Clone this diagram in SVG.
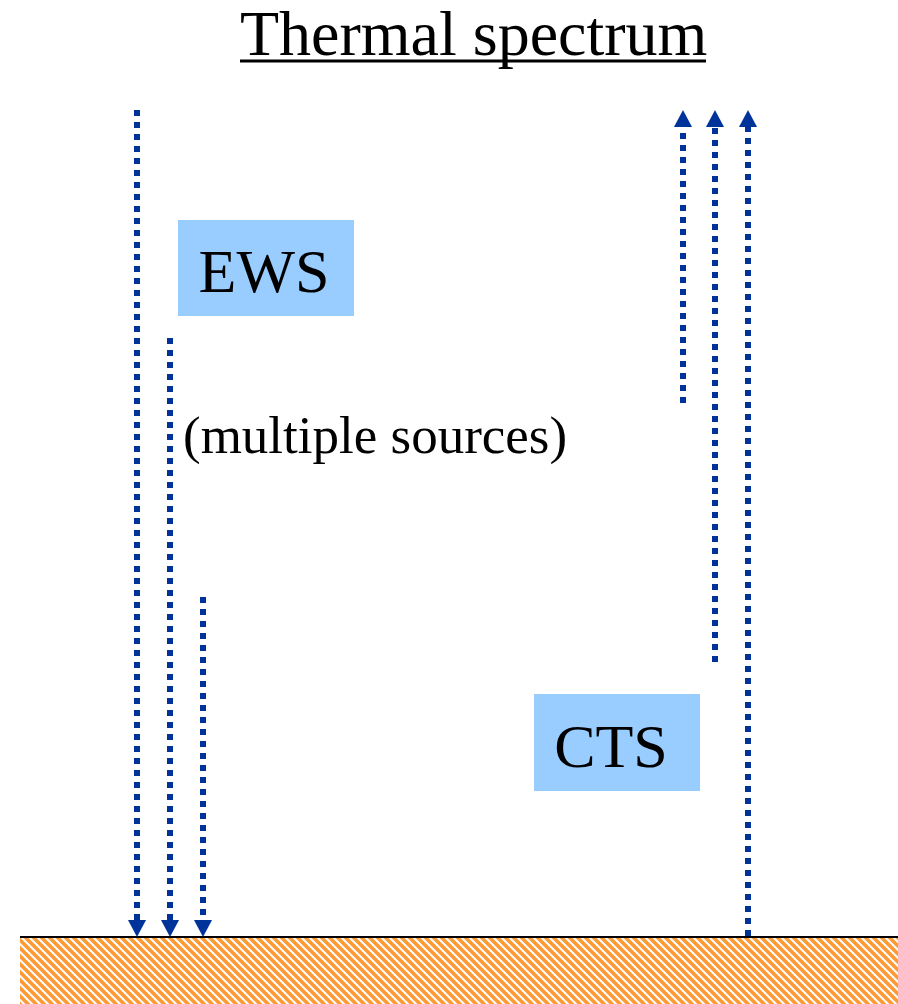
<svg xmlns="http://www.w3.org/2000/svg" width="898" height="1004" viewBox="0 0 898 1004">
  <style>
    .t { font-family: "Liberation Serif", "Times New Roman", serif; fill: #000; }
    .flow { fill: none; stroke: #003399; stroke-width: 6; stroke-dasharray: 6 6; }
    .box { fill: #99CCFF; }
  </style>
  <defs>
    <marker id="ah" markerUnits="userSpaceOnUse" markerWidth="18" markerHeight="18" viewBox="0 0 18 18" refX="0" refY="9" orient="auto">
      <path d="M0,0 L17,9 L0,18 Z" fill="#003399"/>
    </marker>
    <pattern id="hatch" patternUnits="userSpaceOnUse" width="8" height="8">
      <rect width="8" height="8" fill="#ffffff"/>
      <path d="M-1,-1 L9,9 M-9,-1 L1,9 M7,-1 L17,9" stroke="#FF9933" stroke-width="3.6"/>
    </pattern>
  </defs>
  <rect width="898" height="1004" fill="#fff"/>

  <g id="title">
    <text class="t" x="240" y="55" font-size="64">Thermal spectrum</text>
    <rect x="240" y="59.5" width="466" height="3" fill="#000"/>
  </g>

  <g id="ground">
    <rect x="20" y="938" width="878" height="66" fill="url(#hatch)"/>
    <line x1="20" y1="937" x2="898" y2="937" stroke="#000" stroke-width="2"/>
  </g>

  <g id="ews">
    <rect class="box" x="178" y="220" width="176" height="96"/>
    <text class="t" x="264" y="292" font-size="62" text-anchor="middle">EWS</text>
  </g>

  <g id="multiple-sources">
    <text class="t" x="183" y="453" font-size="53">(multiple sources)</text>
  </g>

  <g id="cts">
    <rect class="box" x="534" y="694" width="166" height="97"/>
    <text class="t" x="611" y="767" font-size="62" text-anchor="middle">CTS</text>
  </g>

  <g id="connectors">
    <path class="flow" d="M137,110 V920" marker-end="url(#ah)"/>
    <path class="flow" d="M170,338 V920" marker-end="url(#ah)"/>
    <path class="flow" d="M203,597 V920" marker-end="url(#ah)"/>
    <path class="flow" d="M683,403 V127" marker-end="url(#ah)"/>
    <path class="flow" d="M715,662 V127" marker-end="url(#ah)"/>
    <path class="flow" d="M748,936 V127" marker-end="url(#ah)"/>
  </g>
</svg>
